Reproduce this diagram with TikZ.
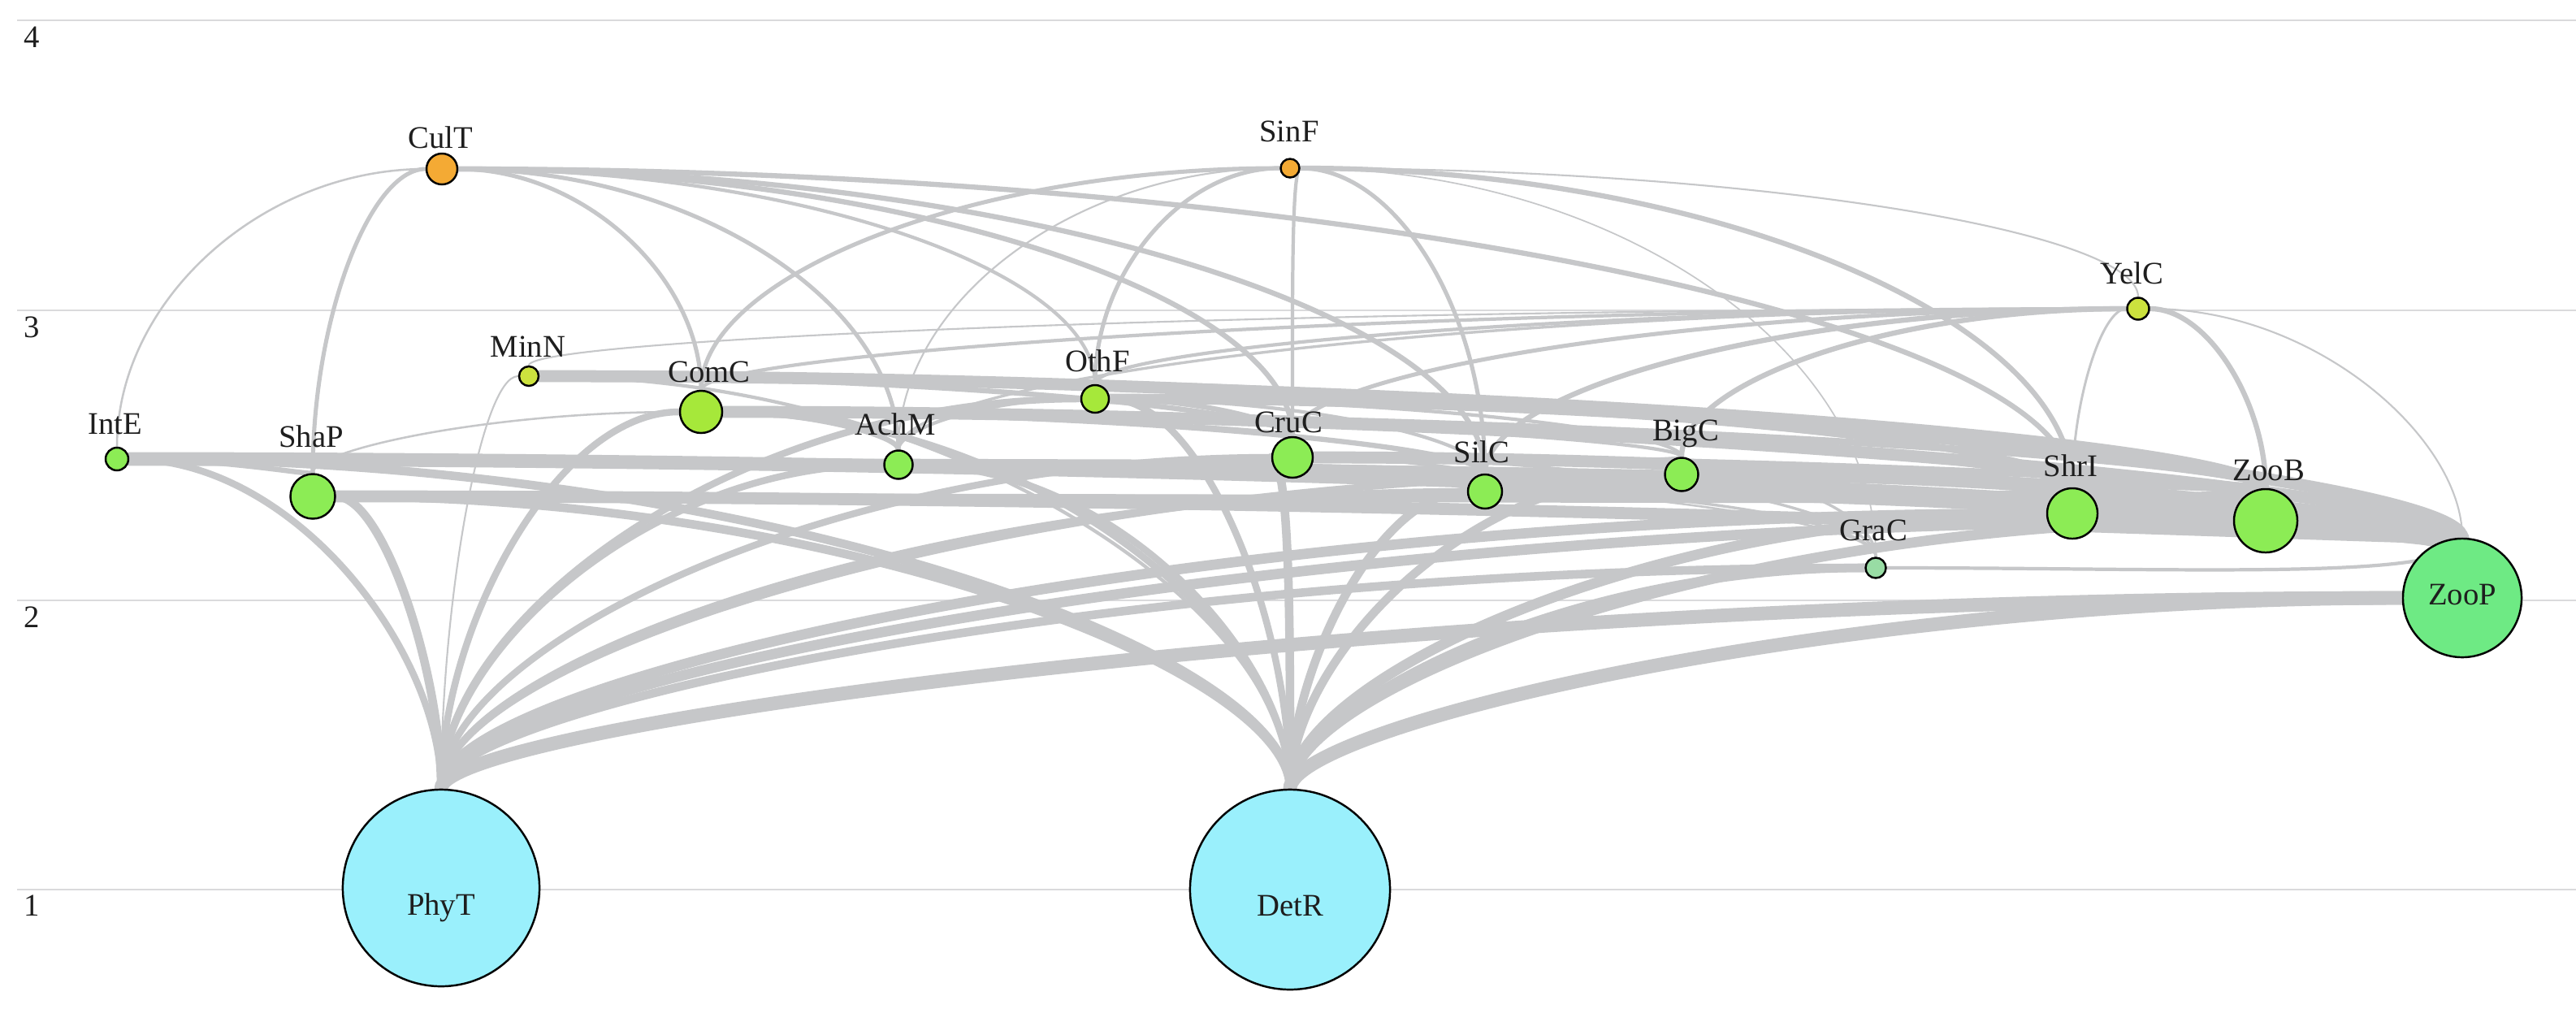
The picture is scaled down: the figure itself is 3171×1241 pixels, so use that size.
\documentclass[tikz,border=0pt]{standalone}
\usepackage{fontspec}
\setmainfont{Liberation Serif}
\usetikzlibrary{calc}
\pgfdeclarelayer{bg}
\pgfdeclarelayer{edges}
\pgfsetlayers{bg,edges,main}
\definecolor{linkgray}{RGB}{198,199,201}
\definecolor{gridgray}{RGB}{218,218,220}
\definecolor{cyanfill}{HTML}{9AF0FC}
\definecolor{mintfill}{HTML}{6EEA84}
\definecolor{grafill}{HTML}{98DCA4}
\definecolor{greenfill}{HTML}{8CEC55}
\definecolor{ygfill}{HTML}{A6E83A}
\definecolor{yelfill}{HTML}{CCE23E}
\definecolor{orangefill}{HTML}{F4AA34}
\definecolor{txt}{HTML}{1E1E1E}
\tikzset{
  fwnode/.style={circle,draw=black,line width=0.7pt,inner sep=0pt,minimum size=#1},
  lab/.style={anchor=base,inner sep=0pt,font=\fontsize{11}{13}\selectfont,text=txt},
  axl/.style={anchor=base,inner sep=0pt,font=\fontsize{11}{13}\selectfont,text=txt},
  gridline/.style={draw=gridgray,line width=0.6pt},
  link/.style={draw=linkgray,line cap=round}
}
\newcommand\fw[3]{\draw[link,line width=1.2*#3pt] (#1) .. controls ($(#1)!0.55!(#1|-#2)$) and ($(#2)!0.55!(#1|-#2)$) .. (#2);}
\begin{document}
\begin{tikzpicture}[x=0.01cm,y=-0.01cm]
\useasboundingbox (0,0) rectangle (3171,1241);
\begin{pgfonlayer}{bg}
\fill[white] (0,0) rectangle (3171,1241);
\draw[gridline] (21,25) -- (3171,25);
\draw[gridline] (21,382) -- (3171,382);
\draw[gridline] (21,739) -- (3171,739);
\draw[gridline] (21,1095) -- (3171,1095);
\end{pgfonlayer}
\node[axl] (ax4) at (39,58) {4};
\node[axl] (ax3) at (39,415) {3};
\node[axl] (ax2) at (39,772) {2};
\node[axl] (ax1) at (39,1127) {1};
% nodes
\node[fwnode=2.42cm,fill=cyanfill] (PhyT) at (543,1093) {};
\node[fwnode=2.46cm,fill=cyanfill] (DetR) at (1588,1095) {};
\node[fwnode=1.46cm,fill=mintfill] (ZooP) at (3031,736) {};
\node[fwnode=0.78cm,fill=greenfill] (ZooB) at (2789,641) {};
\node[fwnode=0.62cm,fill=greenfill] (ShrI) at (2551,632) {};
\node[fwnode=0.25cm,fill=grafill] (GraC) at (2309,699) {};
\node[fwnode=0.41cm,fill=greenfill] (BigC) at (2070,584) {};
\node[fwnode=0.42cm,fill=greenfill] (SilC) at (1828,605) {};
\node[fwnode=0.50cm,fill=greenfill] (CruC) at (1591,563) {};
\node[fwnode=0.35cm,fill=greenfill] (AchM) at (1106,572) {};
\node[fwnode=0.55cm,fill=greenfill] (ShaP) at (385,611) {};
\node[fwnode=0.28cm,fill=greenfill] (IntE) at (144,565) {};
\node[fwnode=0.52cm,fill=ygfill] (ComC) at (863,507) {};
\node[fwnode=0.34cm,fill=ygfill] (OthF) at (1348,491) {};
\node[fwnode=0.24cm,fill=yelfill] (MinN) at (651,463) {};
\node[fwnode=0.27cm,fill=yelfill] (YelC) at (2632,380) {};
\node[fwnode=0.38cm,fill=orangefill] (CulT) at (544,208) {};
\node[fwnode=0.23cm,fill=orangefill] (SinF) at (1588,207) {};
% labels
\node[lab] (PhyT-l) at (543,1126) {PhyT};
\node[lab] (DetR-l) at (1588,1127) {DetR};
\node[lab] (ZooP-l) at (3031,744) {ZooP};
\node[lab] (ZooB-l) at (2793,591) {ZooB};
\node[lab] (ShrI-l) at (2549,586) {ShrI};
\node[lab] (GraC-l) at (2306,665) {GraC};
\node[lab] (BigC-l) at (2075,542) {BigC};
\node[lab] (SilC-l) at (1824,569) {SilC};
\node[lab] (CruC-l) at (1586,532) {CruC};
\node[lab] (AchM-l) at (1102,535) {AchM};
\node[lab] (ShaP-l) at (383,550) {ShaP};
\node[lab] (IntE-l) at (142,534) {IntE};
\node[lab] (ComC-l) at (873,470) {ComC};
\node[lab] (OthF-l) at (1351,457) {OthF};
\node[lab] (MinN-l) at (650,439) {MinN};
\node[lab] (YelC-l) at (2624,349) {YelC};
\node[lab] (CulT-l) at (542,182) {CulT};
\node[lab] (SinF-l) at (1587,174) {SinF};
% links: prey, predator, width
\begin{pgfonlayer}{edges}
\fw{PhyT}{ZooP}{4.0}\fw{DetR}{ZooP}{4.0}
\fw{PhyT}{GraC}{2.5}\fw{DetR}{GraC}{2.5}\fw{ZooP}{GraC}{1.0}
\fw{PhyT}{ZooB}{3}\fw{DetR}{ZooB}{3}\fw{ZooP}{ZooB}{3.5}
\fw{PhyT}{ShrI}{3}\fw{DetR}{ShrI}{3}\fw{ZooP}{ShrI}{3.5}\fw{ZooB}{ShrI}{1.5}
\fw{PhyT}{BigC}{2}\fw{DetR}{BigC}{2.5}\fw{ZooP}{BigC}{3.5}\fw{ShrI}{BigC}{1.5}\fw{ZooB}{BigC}{1.5}\fw{GraC}{BigC}{0.8}
\fw{PhyT}{SilC}{2}\fw{DetR}{SilC}{2.5}\fw{ZooP}{SilC}{3.5}\fw{ZooB}{SilC}{1.5}\fw{ShrI}{SilC}{1.5}\fw{GraC}{SilC}{0.8}
\fw{PhyT}{CruC}{2}\fw{DetR}{CruC}{2.5}\fw{ZooP}{CruC}{3.5}\fw{ZooB}{CruC}{2}\fw{ShrI}{CruC}{2}\fw{SilC}{CruC}{1}\fw{BigC}{CruC}{1}\fw{GraC}{CruC}{0.8}
\fw{PhyT}{AchM}{2}\fw{DetR}{AchM}{2}\fw{ZooP}{AchM}{3}\fw{ZooB}{AchM}{1.5}\fw{ShrI}{AchM}{1.5}\fw{GraC}{AchM}{0.6}
\fw{PhyT}{ShaP}{2.5}\fw{DetR}{ShaP}{2.5}\fw{ZooP}{ShaP}{3.5}\fw{ZooB}{ShaP}{2}\fw{ShrI}{ShaP}{2}
\fw{PhyT}{IntE}{2}\fw{DetR}{IntE}{2.5}\fw{ZooP}{IntE}{4}\fw{ZooB}{IntE}{2}\fw{ShrI}{IntE}{2}\fw{ShaP}{IntE}{1.5}\fw{SilC}{IntE}{1}\fw{BigC}{IntE}{1}
\fw{PhyT}{ComC}{2}\fw{DetR}{ComC}{2}\fw{ZooP}{ComC}{3.5}\fw{ZooB}{ComC}{2}\fw{ShrI}{ComC}{2}\fw{ShaP}{ComC}{0.6}\fw{AchM}{ComC}{1.5}\fw{CruC}{ComC}{1.5}\fw{SilC}{ComC}{1.5}\fw{BigC}{ComC}{1}
\fw{PhyT}{OthF}{2}\fw{DetR}{OthF}{2}\fw{ZooP}{OthF}{3}\fw{ZooB}{OthF}{2}\fw{ShrI}{OthF}{1.5}\fw{CruC}{OthF}{1.5}\fw{AchM}{OthF}{1}\fw{SilC}{OthF}{1}\fw{BigC}{OthF}{1}
\fw{PhyT}{MinN}{0.5}\fw{DetR}{MinN}{1}\fw{ZooP}{MinN}{3.5}\fw{ZooB}{MinN}{2}\fw{ShrI}{MinN}{2}\fw{CruC}{MinN}{1.5}\fw{OthF}{MinN}{1}
\fw{ZooP}{YelC}{0.5}\fw{ZooB}{YelC}{1.5}\fw{ShrI}{YelC}{0.7}\fw{BigC}{YelC}{1.5}\fw{SilC}{YelC}{1.5}\fw{CruC}{YelC}{1.2}\fw{ComC}{YelC}{1}\fw{OthF}{YelC}{1}\fw{AchM}{YelC}{0.8}\fw{MinN}{YelC}{0.5}
\fw{IntE}{CulT}{0.6}\fw{ShaP}{CulT}{1.2}\fw{ComC}{CulT}{1.2}\fw{AchM}{CulT}{1.2}\fw{OthF}{CulT}{1}\fw{CruC}{CulT}{1.5}\fw{SilC}{CulT}{1.5}\fw{ShrI}{CulT}{1.5}
\fw{ComC}{SinF}{1.2}\fw{AchM}{SinF}{0.5}\fw{OthF}{SinF}{1.2}\fw{CruC}{SinF}{1}\fw{SilC}{SinF}{1.2}\fw{ShrI}{SinF}{1.5}\fw{GraC}{SinF}{0.4}\fw{YelC}{SinF}{0.5}
\end{pgfonlayer}
\end{tikzpicture}
\end{document}
